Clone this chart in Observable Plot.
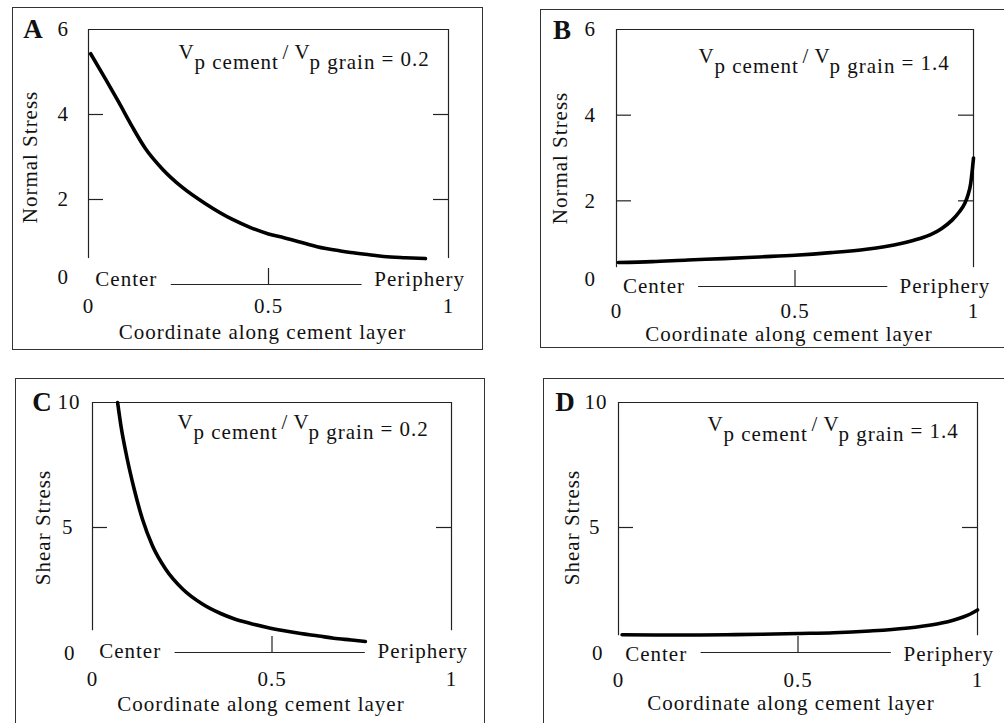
<!DOCTYPE html>
<html><head><meta charset="utf-8">
<script src="https://cdn.jsdelivr.net/npm/d3@7"></script>
<script src="https://cdn.jsdelivr.net/npm/@observablehq/plot@0.6"></script>
<style>
html,body{margin:0;padding:0;background:#fff;}
#page{position:relative;width:1004px;height:723px;overflow:hidden;background:#fff;}
.panel{position:absolute;}
.panel svg{position:absolute;left:0;top:0;max-width:none;}
.panel .box{position:absolute;left:0;top:0;right:0;bottom:0;border:1.5px solid #333;box-sizing:border-box;pointer-events:none;}
</style></head><body><div id="page"></div>
<script>
// ---------- data ----------
const panelLetters = ["A", "B", "C", "D"];
const yTitles = ["Normal Stress", "Normal Stress", "Shear Stress", "Shear Stress"];
const velocityRatios = ["0.2", "1.4", "0.2", "1.4"];
const xTicks = [0, 0.5, 1];
const yTicksNormal = [0, 2, 4, 6];
const yTicksShear = [0, 5, 10];
const innerTicksNormal = [2, 4];
const innerTicksShear = [5];
const xLabel = "Coordinate along cement layer";
const endLabels = ["Center", "Periphery"];

// A: normal stress, Vp cement / Vp grain = 0.2
const aX = [0.006, 0.047, 0.084, 0.121, 0.158, 0.205, 0.26, 0.325, 0.4, 0.45, 0.5, 0.543, 0.6, 0.635, 0.7, 0.728, 0.78, 0.82, 0.88, 0.936];
const aY = [5.43, 4.84, 4.29, 3.72, 3.20, 2.72, 2.29, 1.90, 1.53, 1.34, 1.19, 1.10, 0.97, 0.89, 0.79, 0.755, 0.70, 0.66, 0.63, 0.61];
// B: normal stress, ratio 1.4
const bX = [0.005, 0.1, 0.2, 0.3, 0.4, 0.5, 0.6, 0.7, 0.75, 0.8, 0.85, 0.88, 0.91, 0.94, 0.96, 0.975, 0.985, 0.992, 0.997, 1.0];
const bY = [0.56, 0.58, 0.62, 0.65, 0.69, 0.73, 0.79, 0.87, 0.93, 1.01, 1.12, 1.21, 1.35, 1.55, 1.74, 1.93, 2.15, 2.4, 2.75, 3.0];
// C: shear stress, ratio 0.2
const cX = [0.07, 0.08, 0.093, 0.116, 0.139, 0.167, 0.204, 0.251, 0.306, 0.357, 0.394, 0.44, 0.487, 0.53, 0.58, 0.63, 0.672, 0.72, 0.76];
const cY = [10, 9.0, 8.0, 6.54, 5.34, 4.27, 3.33, 2.54, 1.94, 1.56, 1.35, 1.16, 1.0, 0.88, 0.76, 0.66, 0.57, 0.5, 0.44];
// D: shear stress, ratio 1.4
const dX = [0.01, 0.1, 0.2, 0.3, 0.4, 0.5, 0.6, 0.7, 0.8, 0.85, 0.9, 0.93, 0.96, 0.98, 1.0];
const dY = [0.71, 0.70, 0.70, 0.71, 0.73, 0.76, 0.79, 0.86, 0.97, 1.06, 1.18, 1.28, 1.42, 1.54, 1.7];

// ---------- layout (positions / styles) ----------
const layouts = [
  {left: 12, top: 7, width: 471, height: 343, ml: 76, mr: 35, mt: 22, mb: 66, yMax: 6, yTicks: yTicksNormal, inner: innerTicksNormal, frameBottom: 0.61,
   xs: aX, ys: aY, tickPad: 14, baseDy: 1, xLabDy: 54, xLabDx: -6, yTitleDx: -58, letterDx: -55, letterDy: 8, annDx: 90, annDy: 29,
   yPad: 19.5, topPad: 19.5, zeroPad: 19.5, zeroDy: -7},
  {left: 540, top: 9, width: 470, height: 339, ml: 76, mr: 37, mt: 20, mb: 62, yMax: 6, yTicks: yTicksNormal, inner: innerTicksNormal, frameBottom: 0.44,
   xs: bX, ys: bY, tickPad: 17, baseDy: 6, xLabDy: 54, xLabDx: -6, yTitleDx: -56, letterDx: -54, letterDy: 9, annDx: 82, annDy: 33,
   yPad: 20.5, topPad: 20.5, zeroPad: 20.5, zeroDy: -7},
  {left: 15, top: 378, width: 470, height: 352, ml: 77, mr: 34, mt: 24, mb: 78, yMax: 10, yTicks: yTicksShear, inner: innerTicksShear, frameBottom: 0.87,
   xs: cX, ys: cY, tickPad: 19, baseDy: 5, xLabDy: 58, xLabDx: -11, yTitleDx: -49, letterDx: -50, letterDy: 8, annDx: 85, annDy: 26,
   yPad: 19, topPad: 12, zeroPad: 17, zeroDy: 1},
  {left: 543, top: 378, width: 467, height: 352, ml: 75, mr: 33, mt: 24, mb: 78, yMax: 10, yTicks: yTicksShear, inner: innerTicksShear, frameBottom: 0.67,
   xs: dX, ys: dY, tickPad: 20, baseDy: 8, xLabDy: 57, xLabDx: -7, yTitleDx: -46, letterDx: -53, letterDy: 8, annDx: 89, annDy: 28,
   yPad: 18, topPad: 11, zeroPad: 15, zeroDy: 1}
];
// annotation pieces: [x offset, baseline offset] relative to the first "V"
const annOffsets = [[0, 0], [16, 10], [104, 0], [116, 0], [131, 10], [203, 7]];

const lineColor = "#222";
const page = document.getElementById("page");

layouts.forEach((L, i) => {
  const fw = L.width - L.ml - L.mr, fh = L.height - L.mt - L.mb;
  const pxX = 1 / fw, pxY = L.yMax / fh;
  const pts = L.xs.map((x, k) => ({x, y: L.ys[k]}));
  const annTexts = ["V", "p cement", "/", "V", "p grain", "= " + velocityRatios[i]];
  const txt = d => d;
  const midTicks = L.yTicks.filter(t => t !== 0 && t !== L.yMax);
  const marks = [
    Plot.ruleY([L.yMax], {stroke: lineColor, strokeWidth: 1.2}),
    Plot.ruleX([0, 1], {y1: L.frameBottom, y2: L.yMax, stroke: lineColor, strokeWidth: 1.2}),
    Plot.ruleY([0], {x1: 0.23, x2: 0.76, stroke: lineColor, strokeWidth: 1.2}),
    Plot.ruleX([0.5], {y1: 0, y2: 16 * pxY, stroke: lineColor, strokeWidth: 1.2}),
    Plot.ruleY(L.inner, {x1: 0, x2: 15 * pxX, stroke: lineColor, strokeWidth: 1.2}),
    Plot.ruleY(L.inner, {x1: 1 - 15 * pxX, x2: 1, stroke: lineColor, strokeWidth: 1.2}),
    Plot.line(pts, {x: "x", y: "y", curve: "monotone-x", stroke: "#000", strokeWidth: 3.6}),
    // y tick labels
    Plot.text(midTicks, {x: 0, y: d => d, text: d => String(d), textAnchor: "end", dx: -L.yPad}),
    Plot.text([L.yMax], {x: 0, y: d => d, text: d => String(d), textAnchor: "end", dx: -L.topPad}),
    Plot.text([0], {x: 0, y: d => d, text: d => String(d), textAnchor: "end", dx: -L.zeroPad, dy: L.zeroDy}),
    Plot.text([endLabels[0]], {x: 0.105, y: 0, text: txt, lineAnchor: "bottom", dy: L.baseDy}),
    Plot.text([endLabels[1]], {x: 0.92, y: 0, text: txt, lineAnchor: "bottom", dy: L.baseDy}),
    Plot.text([xLabel], {frameAnchor: "bottom", text: txt, textAnchor: "middle", lineAnchor: "bottom", dy: L.xLabDy, dx: L.xLabDx}),
    Plot.text([yTitles[i]], {frameAnchor: "left", text: txt, textAnchor: "middle", lineAnchor: "middle", rotate: -90, dx: L.yTitleDx}),
    Plot.text([panelLetters[i]], {frameAnchor: "top-left", text: txt, textAnchor: "middle", lineAnchor: "bottom", dx: L.letterDx, dy: L.letterDy, fontWeight: "bold", fontSize: 27}),
    ...annTexts.map((t, k) => Plot.text([t], {frameAnchor: "top-left", text: txt, textAnchor: "start", lineAnchor: "bottom",
      dx: L.annDx + annOffsets[k][0], dy: L.annDy + annOffsets[k][1]}))
  ];
  const chart = Plot.plot({
    width: L.width, height: L.height,
    marginLeft: L.ml, marginRight: L.mr, marginTop: L.mt, marginBottom: L.mb,
    style: {background: "transparent", fontFamily: "'Liberation Serif', 'Times New Roman', serif", fontSize: "21px", letterSpacing: "1px", color: "#111"},
    x: {domain: [0, 1], ticks: xTicks, tickSize: 0, tickPadding: L.tickPad, tickFormat: d => String(d), label: null},
    y: {domain: [0, L.yMax], axis: null},
    marks
  });
  const div = document.createElement("div");
  div.className = "panel";
  div.style.left = L.left + "px"; div.style.top = L.top + "px";
  div.style.width = L.width + "px"; div.style.height = L.height + "px";
  div.appendChild(chart);
  const box = document.createElement("div"); box.className = "box";
  div.appendChild(box);
  page.appendChild(div);
});
</script></body></html>
